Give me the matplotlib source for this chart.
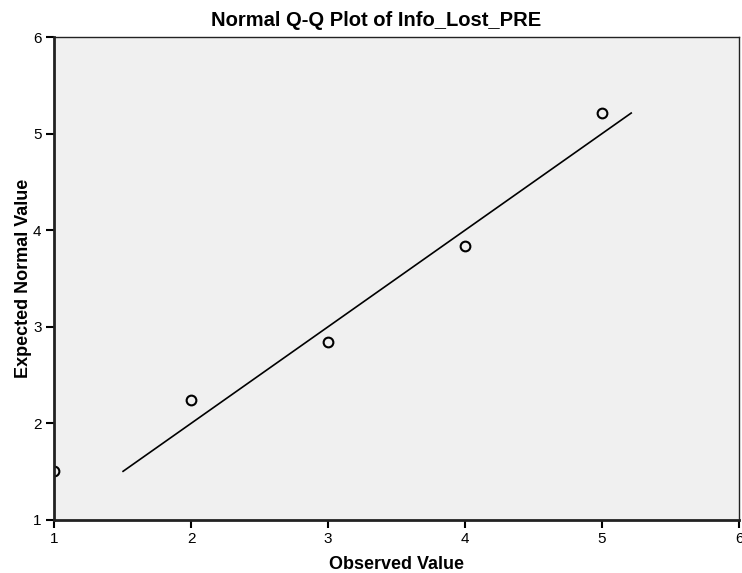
import matplotlib
matplotlib.use("Agg")
import matplotlib.pyplot as plt

plt.rcParams['font.family'] = ['Liberation Sans', 'DejaVu Sans']

observed = [1, 2, 3, 4, 5]
expected = [1.507, 2.242, 2.843, 3.836, 5.213]
ref_line = [1.504, 5.213]
ticks = [1, 2, 3, 4, 5, 6]

fig = plt.figure(figsize=(7.42, 5.73), dpi=100)
ax = fig.add_axes([0.0728, 0.0925, 0.9232, 0.8429])
ax.set_facecolor('#f0f0f0')

ax.plot(ref_line, ref_line, color='black', linewidth=1.2)
ax.plot(observed, expected, linestyle='none', marker='o', markersize=7,
        markerfacecolor='none', markeredgecolor='black', markeredgewidth=1.5)

ax.set_xlim(1, 6)
ax.set_ylim(1, 6)
ax.set_xticks(ticks)
ax.set_yticks(ticks)
ax.tick_params(direction='out', length=6, width=1.5, labelsize=11, pad=3)
for side in ['left', 'bottom']:
    ax.spines[side].set_linewidth(2)
    ax.spines[side].set_color('#222222')
for side in ['top', 'right']:
    ax.spines[side].set_linewidth(1)
    ax.spines[side].set_color('#222222')

# SPSS centres the title on the whole chart, not the plot area
fig.text(0.507, 0.965, "Normal Q-Q Plot of Info_Lost_PRE", fontsize=14.5,
         fontweight='bold', ha='center', va='center')
ax.set_xlabel("Observed Value", fontsize=13, fontweight='bold', labelpad=7)
ax.set_ylabel("Expected Normal Value", fontsize=13, fontweight='bold', labelpad=1)

fig.savefig("out.png", dpi=100)
